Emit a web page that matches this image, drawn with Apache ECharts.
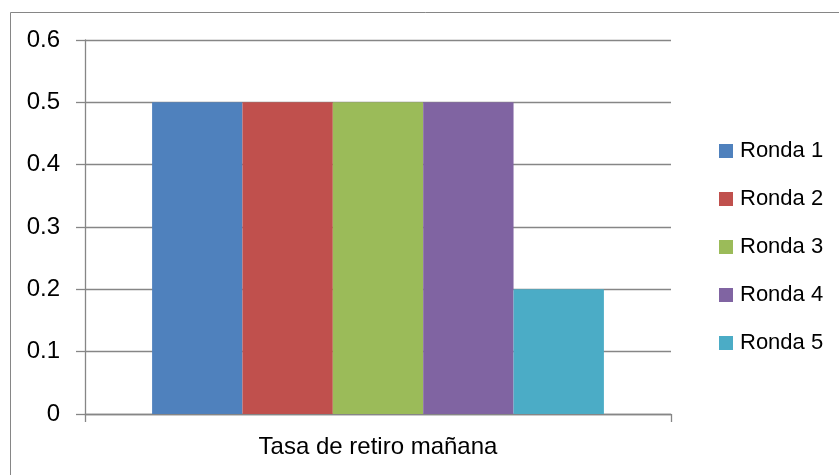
<!DOCTYPE html>
<html>
<head>
<meta charset="utf-8">
<script src="https://cdn.jsdelivr.net/npm/echarts@6/dist/echarts.min.js"></script>
<style>
html,body{margin:0;padding:0;background:#fff;}
#chart{width:839px;height:475px;}
</style>
</head>
<body>
<div id="chart"></div>
<script>
const categories = ["Tasa de retiro mañana"];
const seriesNames = ["Ronda 1", "Ronda 2", "Ronda 3", "Ronda 4", "Ronda 5"];
const ronda1 = [0.5];
const ronda2 = [0.5];
const ronda3 = [0.5];
const ronda4 = [0.5];
const ronda5 = [0.2];
const yTicks = { min: 0, max: 0.6, interval: 0.1 };

const seriesData = [ronda1, ronda2, ronda3, ronda4, ronda5];
const colors = ["#4F81BD", "#C0504D", "#9BBB59", "#8064A2", "#4BACC6"];
const FONT = "'Liberation Sans', Arial, sans-serif";
const gray = "#868686";

const chart = echarts.init(document.getElementById('chart'), null, { renderer: 'canvas' });
chart.setOption({
  animation: false,
  backgroundColor: '#ffffff',
  color: colors,
  graphic: [{
    type: 'rect',
    left: 8, top: 10,
    shape: { x: 0.5, y: 0.5, width: 900, height: 600 },
    style: { fill: 'none', stroke: gray, lineWidth: 1 },
    silent: true
  }],
  grid: { left: 85, right: 168, top: 40, bottom: 61, containLabel: false },
  legend: {
    orient: 'vertical',
    left: 714, top: 135,
    itemWidth: 14, itemHeight: 14,
    itemGap: 26,
    icon: 'rect',
    textStyle: { fontFamily: FONT, fontSize: 22, color: '#000', lineHeight: 22, padding: [0, 0, 0, 2] },
    data: seriesNames
  },
  xAxis: {
    type: 'category',
    data: categories,
    axisLine: { lineStyle: { color: gray, width: 1.3 } },
    axisTick: { show: true, length: 8, lineStyle: { color: gray, width: 1.3 } },
    axisLabel: { fontFamily: FONT, fontSize: 24, color: '#000', margin: 21 }
  },
  yAxis: {
    type: 'value',
    min: yTicks.min, max: yTicks.max, interval: yTicks.interval,
    axisLine: { show: true, lineStyle: { color: gray, width: 1.3 } },
    axisTick: { show: true, length: 9, lineStyle: { color: gray, width: 1.3 } },
    splitLine: { show: true, lineStyle: { color: gray, width: 1.3 } },
    axisLabel: {
      fontFamily: FONT, fontSize: 24, color: '#000', margin: 25,
      formatter: v => (v === 0 ? '0' : v.toFixed(1))
    }
  },
  series: seriesNames.map((name, i) => ({
    name: name,
    type: 'bar',
    data: seriesData[i],
    barGap: '0%',
    barCategoryGap: '22.9%',
    itemStyle: { color: colors[i] }
  }))
});
</script>
</body>
</html>
